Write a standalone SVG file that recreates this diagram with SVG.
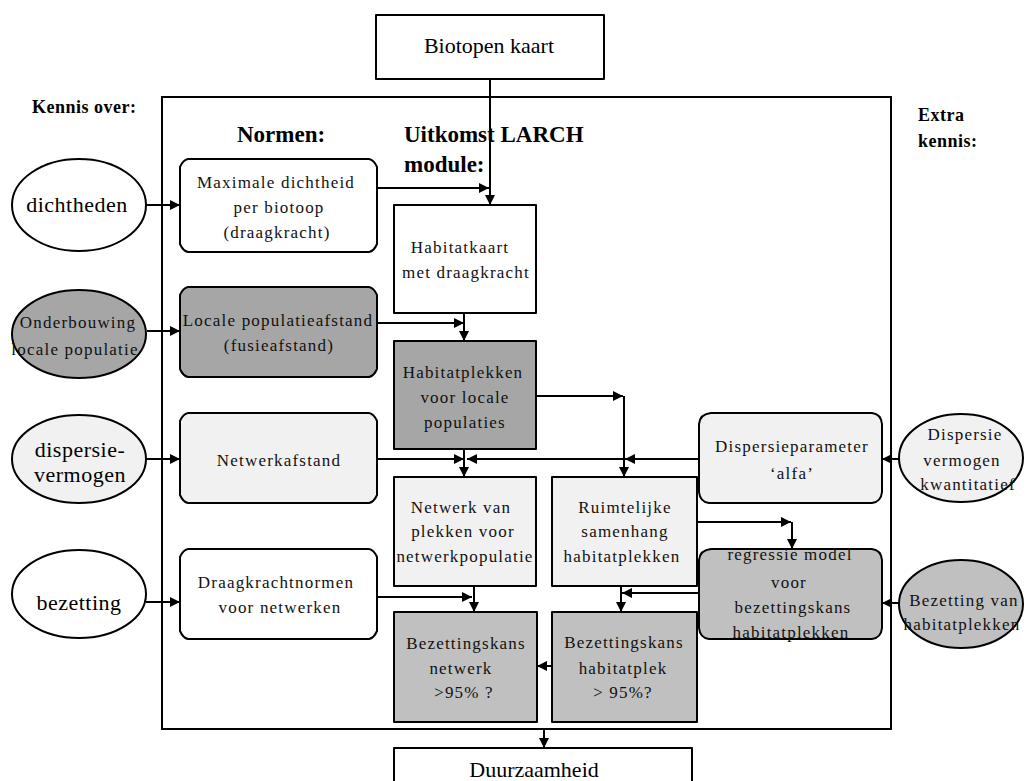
<svg xmlns="http://www.w3.org/2000/svg" width="1035" height="781" viewBox="0 0 1035 781">
<defs>
<marker id="ah" markerUnits="userSpaceOnUse" markerWidth="11" markerHeight="10" refX="10" refY="5" orient="auto">
<path d="M0,0 L10,5 L0,10 Z" fill="#000"/>
</marker>
<style>
.b{stroke:#000;stroke-width:2;stroke-linejoin:round}
.w{fill:#fff}.l{fill:#f1f1f1}.d{fill:#a6a6a6}.m{fill:#c0c0c0}
.t{font-family:"Liberation Serif",serif;font-size:17px;letter-spacing:1.2px;fill:#111;text-anchor:middle}
.e{font-family:"Liberation Serif",serif;font-size:22px;letter-spacing:0.5px;fill:#000;text-anchor:middle}
.h{font-family:"Liberation Serif",serif;font-weight:bold;font-size:23px;fill:#000}
.k{font-family:"Liberation Serif",serif;font-weight:bold;font-size:18px;letter-spacing:0.5px;fill:#000}
.c{fill:none;stroke:#000;stroke-width:2}
.ca{fill:none;stroke:#000;stroke-width:2;marker-end:url(#ah)}
</style>
</defs>
<rect x="0" y="0" width="1035" height="781" fill="#fff"/>

<g id="frame"><rect x="162" y="97" width="729" height="632" fill="none" stroke="#000" stroke-width="2"/></g>

<g id="labels">
<text class="k" x="32" y="113">Kennis over:</text>
<text class="k" x="918" y="121">Extra</text>
<text class="k" x="918" y="147">kennis:</text>
<text class="h" x="237" y="142">Normen:</text>
<text class="h" x="404" y="142">Uitkomst LARCH</text>
<text class="h" x="404" y="172">module:</text>
</g>

<g id="biotopen"><rect class="b w" x="376" y="15" width="228" height="64"/><text class="e" style="letter-spacing:0" x="489" y="53">Biotopen kaart</text></g>

<g id="dichtheden"><ellipse class="b w" cx="79" cy="205" rx="67" ry="46"/><text class="e" x="77" y="212">dichtheden</text></g>
<g id="onderbouwing"><ellipse class="b d" cx="79" cy="334" rx="67" ry="44"/><text class="t" x="78" y="328">Onderbouwing</text><text class="t" x="75" y="355">locale populatie</text></g>
<g id="dispersievermogen"><ellipse class="b l" cx="79" cy="459" rx="67" ry="44"/><text class="e" x="80" y="457">dispersie-</text><text class="e" x="80" y="482">vermogen</text></g>
<g id="bezetting"><ellipse class="b w" cx="79" cy="594" rx="67" ry="44"/><text class="e" x="79" y="610">bezetting</text></g>

<g id="dispersiekwant"><ellipse class="b l" cx="961" cy="458" rx="62" ry="44"/><text class="t" x="965" y="440">Dispersie</text><text class="t" x="962" y="466">vermogen</text><text class="t" x="968" y="490">kwantitatief</text></g>
<g id="bezettingvan"><ellipse class="b m" cx="961" cy="604" rx="62" ry="44"/><text class="t" x="964" y="606">Bezetting van</text><text class="t" x="962" y="630">habitatplekken</text></g>

<g id="maxdicht"><path class="b w" d="M188,159 H369 Q374,160 377,167 V244 Q374,251 369,252 H188 Q183,251 180,244 V167 Q183,160 188,159 Z"/><text class="t" x="276" y="188">Maximale dichtheid</text><text class="t" x="279" y="213">per biotoop</text><text class="t" x="277" y="238">(draagkracht)</text></g>
<g id="localeafstand"><path class="b d" d="M188,287 H369 Q374,288 377,295 V369 Q374,376 369,377 H188 Q183,376 180,369 V295 Q183,288 188,287 Z"/><text class="t" x="278" y="326">Locale populatieafstand</text><text class="t" x="279" y="351">(fusieafstand)</text></g>
<g id="netwerkafstand"><path class="b l" d="M188,413 H369 Q374,414 377,421 V495 Q374,502 369,503 H188 Q183,502 180,495 V421 Q183,414 188,413 Z"/><text class="t" x="279" y="466">Netwerkafstand</text></g>
<g id="draagkrachtnormen"><path class="b w" d="M188,549 H369 Q374,550 377,557 V631 Q374,638 369,639 H188 Q183,638 180,631 V557 Q183,550 188,549 Z"/><text class="t" x="276" y="588">Draagkrachtnormen</text><text class="t" x="280" y="613">voor netwerken</text></g>

<g id="dispersieparameter"><path class="b l" d="M711,413 H872 Q881,414 882,424 V492 Q881,502 872,503 H709 Q700,502 699,492 V424 Q700,414 711,413 Z"/><text class="t" x="792" y="452">Dispersieparameter</text><text class="t" x="792" y="479">&#8216;alfa&#8217;</text></g>
<g id="regressie"><path class="b m" d="M711,549 H872 Q881,550 882,560 V628 Q881,638 872,639 H709 Q700,638 699,628 V560 Q700,550 711,549 Z"/><text class="t" x="790" y="560">regressie model</text><text class="t" x="789" y="588">voor</text><text class="t" x="793" y="613">bezettingskans</text><text class="t" x="791" y="638">habitatplekken</text></g>

<g id="habitatkaart"><rect class="b w" x="394" y="205" width="142" height="108"/><text class="t" x="460" y="253">Habitatkaart</text><text class="t" x="466" y="278">met draagkracht</text></g>
<g id="habitatplekken"><rect class="b d" x="394" y="341" width="142" height="108"/><text class="t" x="463" y="378">Habitatplekken</text><text class="t" x="465" y="403">voor locale</text><text class="t" x="465" y="428">populaties</text></g>
<g id="netwerkvan"><rect class="b l" x="394" y="477" width="142" height="109"/><text class="t" x="461" y="513">Netwerk van</text><text class="t" x="463" y="537">plekken voor</text><text class="t" x="465" y="562">netwerkpopulatie</text></g>
<g id="ruimtelijke"><rect class="b l" x="552" y="477" width="145" height="109"/><text class="t" x="625" y="513">Ruimtelijke</text><text class="t" x="625" y="537">samenhang</text><text class="t" x="622" y="562">habitatplekken</text></g>
<g id="bezkansnetwerk"><rect class="b m" x="394" y="612" width="143" height="110"/><text class="t" x="466" y="649">Bezettingskans</text><text class="t" x="461" y="674">netwerk</text><text class="t" x="464" y="698">&gt;95% ?</text></g>
<g id="bezkanshabitat"><rect class="b m" x="552" y="612" width="145" height="110"/><text class="t" x="624" y="648">Bezettingskans</text><text class="t" x="623" y="674">habitatplek</text><text class="t" x="623" y="698">&gt; 95%?</text></g>

<g id="duurzaamheid"><rect class="b w" x="394" y="748" width="298" height="45"/><text class="e" style="letter-spacing:0" x="534" y="777">Duurzaamheid</text></g>

<g id="connectors">
<path class="ca" d="M490,79 V205"/>
<path class="ca" d="M377,188 H489"/>
<path class="ca" d="M146,205 H180"/>
<path class="ca" d="M147,331 H180"/>
<path class="ca" d="M377,323 H464"/>
<path class="ca" d="M464,313 V341"/>
<path class="ca" d="M146,459 H180"/>
<path class="ca" d="M377,459 H464"/>
<path class="ca" d="M464,449 V477"/>
<path class="ca" d="M699,459 H467"/>
<path class="ca" d="M699,459 H625"/>
<path class="ca" d="M536,396 H623"/>
<path class="ca" d="M624,396 V477"/>
<path class="ca" d="M474,586 V612"/>
<path class="ca" d="M377,597 H472"/>
<path class="ca" d="M146,602 H180"/>
<path class="ca" d="M697,522 H791"/>
<path class="ca" d="M792,522 V549"/>
<path class="ca" d="M699,593 H622"/>
<path class="ca" d="M621,586 V612"/>
<path class="ca" d="M552,666 H537"/>
<path class="ca" d="M544,729 V748"/>
<path class="ca" d="M899,459 H882"/>
<path class="ca" d="M899,603 H882"/>
</g>
</svg>
